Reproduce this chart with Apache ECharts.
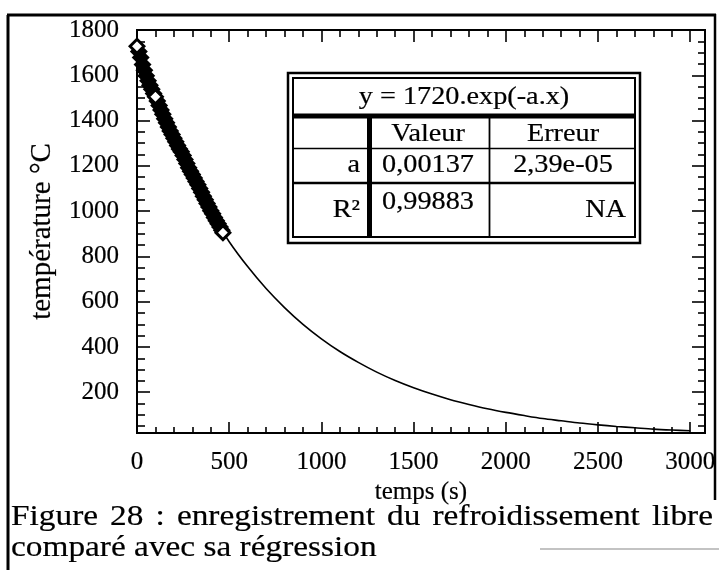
<!DOCTYPE html>
<html><head><meta charset="utf-8">
<script src="https://cdn.jsdelivr.net/npm/echarts@6/dist/echarts.min.js"></script>
<style>html,body{margin:0;padding:0;background:#fff}#c{width:719px;height:570px}</style>
</head><body><div id="c"></div>
<script>
// measured cooling record (s, °C)
const timeData = [0,10,20,30,40,50,60,70,80,90,100,110,120,130,140,150,160,170,180,190,200,210,220,230,240,250,260,270,280,290,300,310,320,330,340,350,360,370,380,390,400,410,420,430,440,450,460,466];
const tempData = [1728,1705,1678,1648,1622,1598,1576,1556,1538,1520,1505,1486,1466,1447,1428,1408,1390,1372,1354,1338,1322,1306,1290,1274,1262,1246,1228,1210,1192,1176,1162,1146,1131,1116,1100,1083,1066,1050,1034,1018,1002,988,972,958,944,930,916,905];
// open markers visible on the record
const markerTime = [0, 100, 466];
const markerTemp = [1728, 1505, 905];
// regression curve
const fitTime = [0,100,200,300,400,500,600,700,800,900,1000,1100,1200,1300,1400,1500,1600,1700,1800,1900,2000,2100,2200,2300,2400,2500,2600,2700,2800,2900,3000];
const fitTemp = [1720,1500,1305,1140,993,865,755,658,574,500,436,380,332,289,252,220,192,167,146,127,111,97,84,74,64,56,49,43,37,33,30];
// axes
const xTicks = [0,500,1000,1500,2000,2500,3000];
const xMinor = [100,200,300,400,600,700,800,900,1100,1200,1300,1400,1600,1700,1800,1900,2100,2200,2300,2400,2600,2700,2800,2900];
const yTicks = [200,400,600,800,1000,1200,1400,1600,1800];
const yMinor = [50,100,150,250,300,350,450,500,550,650,700,750,850,900,950,1050,1100,1150,1250,1300,1350,1450,1500,1550,1650,1700,1750];
// texts
const xName = 'temps (s)';
const yName = 'température °C';
const tableTitle = 'y = 1720.exp(-a.x)';
const tableHeader = ['', 'Valeur', 'Erreur'];
const rowA = ['a', '0,00137', '2,39e-05'];
const rowR = ['R²', '0,99883', 'NA'];
const caption1 = 'Figure 28 : enregistrement du refroidissement libre';
const caption2 = 'comparé avec sa régression';

const FONT = '"Liberation Serif", "Times New Roman", serif';
const X_MIN = 0, X_MAX = 3080, Y_MIN = 20, Y_MAX = 1800;
const plain = v => String(v);
const heavy = { textBorderColor: '#000', textBorderWidth: 0.2 };

function xAx(pos, ticks, len, labels, extra) {
  return Object.assign({
    type: 'value', min: X_MIN, max: X_MAX, position: pos,
    axisLine: { show: true, onZero: false, lineStyle: { color: '#000', width: 2 } },
    axisTick: { show: true, inside: true, length: len, customValues: ticks, lineStyle: { color: '#000', width: 1.6 } },
    axisLabel: labels ? Object.assign({ show: true, customValues: xTicks, formatter: plain, margin: 17, color: '#000', fontFamily: FONT, fontSize: 25 }, heavy) : { show: false },
    splitLine: { show: false }
  }, extra || {});
}
function yAx(pos, ticks, len, labels, extra) {
  return Object.assign({
    type: 'value', min: Y_MIN, max: Y_MAX, position: pos,
    axisLine: { show: true, onZero: false, lineStyle: { color: '#000', width: 2 } },
    axisTick: { show: true, inside: true, length: len, customValues: ticks, lineStyle: { color: '#000', width: 1.6 } },
    axisLabel: labels ? Object.assign({ show: true, customValues: yTicks, formatter: plain, margin: 18, color: '#000', fontFamily: FONT, fontSize: 25 }, heavy) : { show: false },
    splitLine: { show: false }
  }, extra || {});
}

const chart = echarts.init(document.getElementById('c'), null, { renderer: 'canvas' });

// table geometry
const T = { x0: 288, y0: 73, x1: 640, y1: 243 };
const I = { x0: 293, y0: 78, x1: 635, y1: 237 };
const rowY = { title: 97, head: 134, a: 165, r: 206 };
const colX = { c1r: 360, c2: 428, c3: 563 };
const SX = 1.13; // horizontal stretch of the scanned lettering
function txt(s, x, y, align, size) {
  return { type: 'text', x: x, y: y, z: 20, scaleX: SX, style: { text: s, fill: '#000', stroke: '#000', lineWidth: 0.2, font: (size || 25) + 'px ' + FONT, textAlign: align, textVerticalAlign: 'middle' } };
}
function ln(x1, y1, x2, y2, w, c) {
  return { type: 'line', z: 19, shape: { x1: x1, y1: y1, x2: x2, y2: y2 }, style: { stroke: c || '#000', lineWidth: w } };
}
// justified first caption line (as in the typeset figure)
const CAP_SIZE = 29.5, CAP_L = 11, CAP_R = 713;
function justified(line, y) {
  const ctx = document.createElement('canvas').getContext('2d');
  ctx.font = CAP_SIZE + 'px ' + FONT;
  const words = line.split(' ');
  const widths = words.map(w => ctx.measureText(w).width * SX);
  const total = widths.reduce((a, b) => a + b, 0);
  const gap = (CAP_R - CAP_L - total) / (words.length - 1);
  const out = [];
  let x = CAP_L;
  words.forEach((w, i) => { out.push(txt(w, x, y, 'left', CAP_SIZE)); x += widths[i] + gap; });
  return out;
}

const graphics = [
  // outer frame of the figure
  ln(8, 15, 8, 570, 3), ln(7, 15, 716, 15, 3), ln(715, 14, 715, 500, 2.5), ln(540, 549, 719, 549, 1.2, '#888'),
  // table
  { type: 'rect', z: 18, shape: { x: T.x0, y: T.y0, width: T.x1 - T.x0, height: T.y1 - T.y0 }, style: { fill: '#fff', stroke: '#000', lineWidth: 2.5 } },
  { type: 'rect', z: 19, shape: { x: I.x0, y: I.y0, width: I.x1 - I.x0, height: I.y1 - I.y0 }, style: { fill: 'none', stroke: '#000', lineWidth: 2 } },
  ln(I.x0, 116, I.x1, 116, 5),
  ln(I.x0, 148.5, I.x1, 148.5, 1.5),
  ln(I.x0, 183, I.x1, 183, 2.5),
  ln(369.5, 116, 369.5, I.y1, 5),
  ln(489.5, 116, 489.5, I.y1, 1.8),
  txt(tableTitle, (I.x0 + I.x1) / 2, rowY.title, 'center', 25),
  txt(tableHeader[1], colX.c2, rowY.head, 'center'),
  txt(tableHeader[2], colX.c3, rowY.head, 'center'),
  txt(rowA[0], colX.c1r, rowY.a, 'right'),
  txt(rowA[1], colX.c2, rowY.a, 'center'),
  txt(rowA[2], colX.c3, rowY.a, 'center'),
  txt(rowR[0], colX.c1r, rowY.r + 4, 'right'),
  txt(rowR[1], colX.c2, rowY.r - 4, 'center'),
  txt(rowR[2], 626, rowY.r + 4, 'right')
].concat(justified(caption1, 517), [txt(caption2, CAP_L, 548, 'left', CAP_SIZE)]);

chart.setOption({
  animation: false,
  backgroundColor: '#fff',
  grid: { left: 137, top: 30, right: 14, bottom: 137, containLabel: false, outerBoundsMode: 'none' },
  xAxis: [
    xAx('bottom', xTicks, 11, true, { name: xName, nameLocation: 'middle', nameGap: 45, nameTextStyle: Object.assign({ color: '#000', fontFamily: FONT, fontSize: 25 }, heavy) }),
    xAx('bottom', xMinor, 6, false),
    xAx('top', xTicks, 12, false),
    xAx('top', xMinor, 7, false)
  ],
  yAxis: [
    yAx('left', yTicks, 13, true, { name: yName, nameLocation: 'middle', nameGap: 80, nameRotate: 90, nameTextStyle: Object.assign({ color: '#000', fontFamily: FONT, fontSize: 29 }, heavy) }),
    yAx('left', yMinor, 8, false),
    yAx('right', yTicks, 13, false),
    yAx('right', yMinor, 7, false)
  ],
  series: [
    { type: 'line', name: 'régression', data: fitTime.map((t, i) => [t, fitTemp[i]]), smooth: 0.3, symbol: 'none', lineStyle: { color: '#000', width: 1.6 }, z: 2 },
    { type: 'scatter', name: 'mesures', data: timeData.map((t, i) => [t, tempData[i]]), symbol: 'diamond', symbolSize: 18, itemStyle: { color: '#000', opacity: 1 }, z: 3 },
    { type: 'scatter', name: 'repères', data: markerTime.map((t, i) => [t, markerTemp[i]]), symbol: 'diamond', symbolSize: 12, itemStyle: { color: '#fff', borderColor: '#000', borderWidth: 1.6, opacity: 1 }, z: 4 }
  ],
  graphic: graphics
});
</script></body></html>
